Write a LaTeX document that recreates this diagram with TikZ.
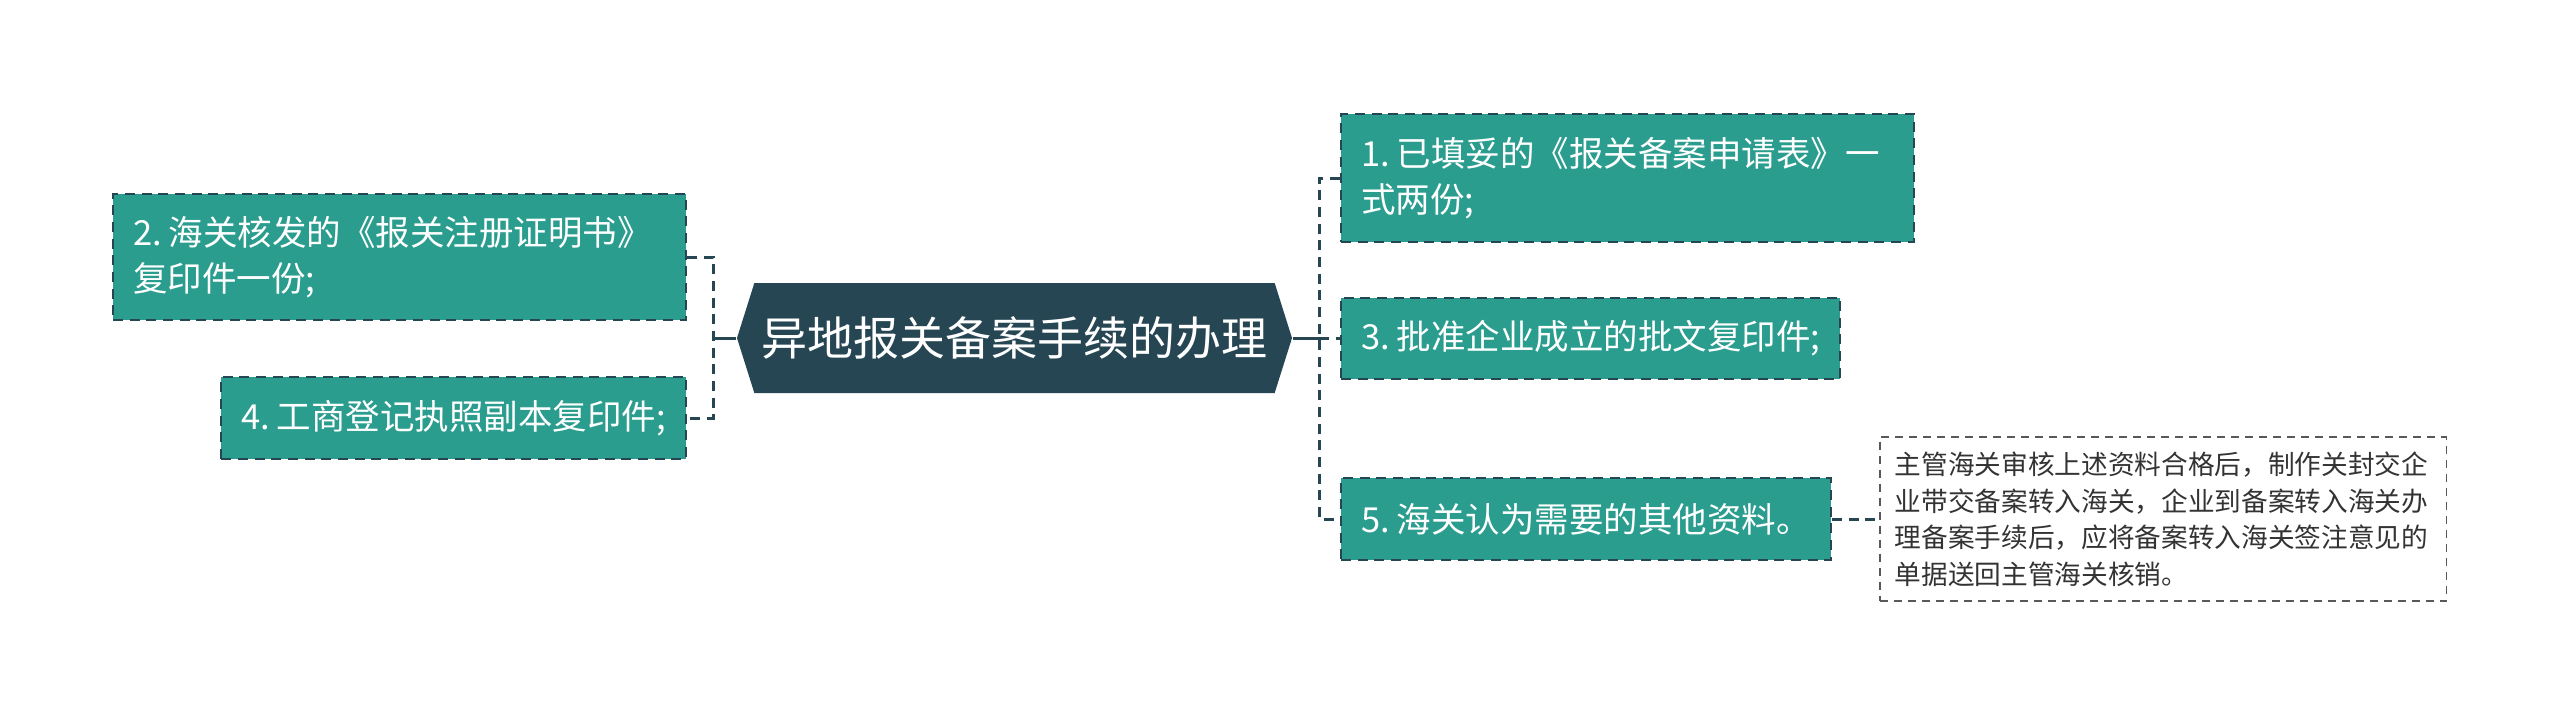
\documentclass[tikz,border=0pt]{standalone}
\usepackage{fontspec}
\newfontfamily\cjk{Noto Sans CJK SC}
\usetikzlibrary{shapes.symbols}
\definecolor{hubdark}{HTML}{264653}
\definecolor{leafteal}{HTML}{2A9D8F}
\definecolor{notegray}{HTML}{595959}
\newcommand{\nsp}{\kern0.2em}

\begin{document}
\begin{tikzpicture}[
    x=0.3pt,y=-0.3pt,
    hub/.style={signal,signal to=west and east,signal pointer angle=145,fill=hubdark,text=white,font=\cjk\fontsize{13.8}{16}\selectfont,minimum width=166.5pt,minimum height=33pt,inner sep=0pt},
    leaf/.style={draw=hubdark,line width=0.6pt,dash pattern=on 3pt off 2pt,fill=leafteal,text=white,font=\cjk\fontsize{10.35}{13.7}\selectfont,align=left,inner xsep=6pt,inner ysep=3pt},
    note/.style={draw=notegray,line width=0.45pt,dash pattern=on 2.4pt off 1.8pt,text=black!80,font=\cjk\fontsize{8}{10.95}\selectfont,align=left,text width=161pt,inner xsep=4.5pt,minimum height=49.2pt},
    link/.style={draw=hubdark,line width=0.9pt},
    dlink/.style={link,dash pattern=on 3pt off 2pt}
  ]
  \useasboundingbox (0,0) rectangle (2560,719);

  % centre
  \node[hub] (hub) at (1014.5,338) {异地报关备案手续的办理};
  \coordinate (jl) at (713,338);
  \coordinate (jr) at (1319,338);

  % left side
  \node[leaf,anchor=east,text width=159.9pt,minimum height=37.8pt] (b2) at (687,257) {2.\nsp 海关核发的《报关注册证明书》\\复印件一份;};
  \node[leaf,anchor=east,minimum width=138.6pt,minimum height=24.6pt] (b4) at (687,418) {4.\nsp 工商登记执照副本复印件;};

  % right side
  \node[leaf,anchor=west,text width=159.9pt,minimum height=38.4pt] (b1) at (1340,178) {1.\nsp 已填妥的《报关备案申请表》一\\式两份;};
  \node[leaf,anchor=west,minimum width=149.4pt,minimum height=24.3pt] (b3) at (1340,338) {3.\nsp 批准企业成立的批文复印件;};
  \node[leaf,anchor=west,minimum width=147pt,minimum height=24.6pt] (b5) at (1340,519) {5.\nsp 海关认为需要的其他资料。};
  \node[note,anchor=west] (n5) at (1879,519) {主管海关审核上述资料合格后，制作关封交企\\业带交备案转入海关，企业到备案转入海关办\\理备案手续后，应将备案转入海关签注意见的\\单据送回主管海关核销。};

  % connectors
  \draw[link] (hub.west) -- (jl);
  \draw[dlink] (b2.east) -| (jl) |- (b4.east);
  \draw[link] (hub.east) -- (jr);
  \draw[dlink] (b1.west) -| (jr) |- (b5.west);
  \draw[dlink] (jr) -- (b3.west);
  \draw[dlink] (b5.east) -- (n5.west);
\end{tikzpicture}
\end{document}
